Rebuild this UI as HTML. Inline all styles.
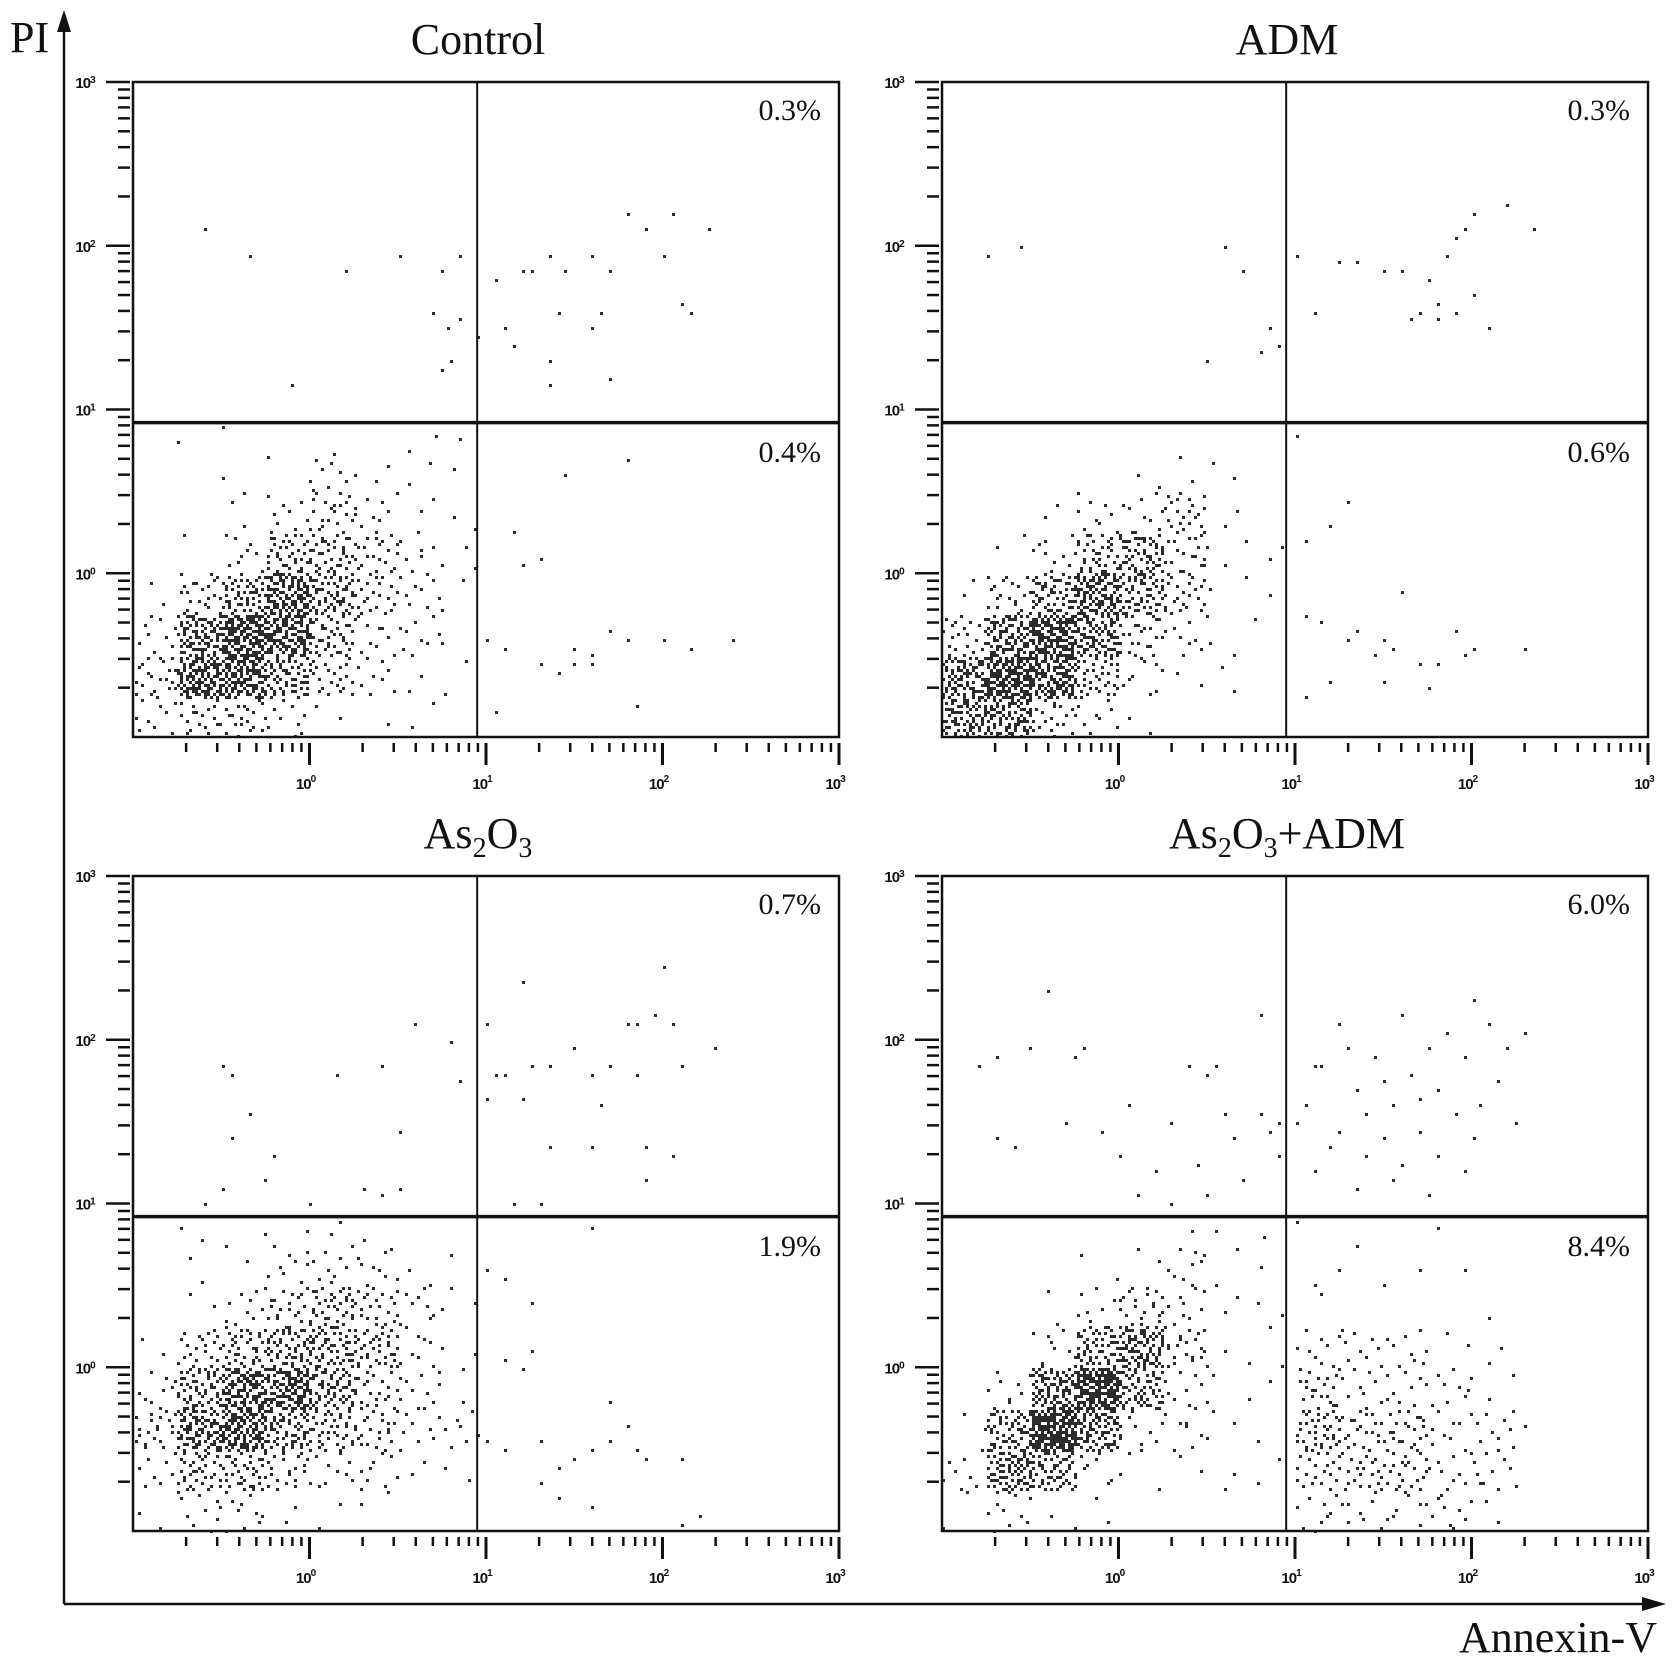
<!DOCTYPE html>
<html><head><meta charset="utf-8"><style>
html,body{margin:0;padding:0;background:#fff;}
svg{display:block;}
</style></head><body>
<svg id="fig" width="1677" height="1665" viewBox="0 0 1677 1665" xmlns="http://www.w3.org/2000/svg">
  <g stroke="#111" fill="#111">
    <line x1="64" y1="24" x2="64" y2="1604" stroke-width="2.5"/>
    <polygon points="64,10 57,32 71,32" stroke="none"/>
    <line x1="64" y1="1604" x2="1650" y2="1604" stroke-width="2.5"/>
    <polygon points="1666,1604 1642,1597 1642,1611" stroke="none"/>
  </g>
  <text x="10" y="52" font-family="Liberation Serif, serif" font-size="44" fill="#111">PI</text>
  <text x="1657" y="1652" text-anchor="end" font-family="Liberation Serif, serif" font-size="44" fill="#111">Annexin-V</text>
  <g id="panels"></g>
</svg>
<script>
// ---- data (log10 coordinates) ----
const panelTitles = ["Control", "ADM", "As2O3", "As2O3+ADM"];
const upperPercents = ["0.3%", "0.3%", "0.7%", "6.0%"];
const lowerPercents = ["0.4%", "0.6%", "1.9%", "8.4%"];
const xTickLabels = ["0", "1", "2", "3"];
const yTickLabels = ["3", "2", "1", "0"];
const gateX = 0.95;
const gateY = 0.92;
// density grids for lower-left quadrant: rows from y=[0.75,1] down to [-1,-0.75]; cols x=[-1,-0.75]..[0.75,1]
const densityControl = [
 [0,1,1,0,0,0,1,1],
 [0,0,1,1,2,1,1,1],
 [0,0,1,2,3,2,1,1],
 [0,1,2,4,4,3,2,1],
 [1,3,5,7,5,3,2,1],
 [2,6,8,7,4,2,2,1],
 [3,7,7,5,3,2,1,1],
 [2,3,3,2,1,1,1,0]];
const densityADM = [
 [0,0,0,0,0,0,0,0],
 [0,0,0,0,1,1,1,0],
 [0,0,1,2,2,3,1,0],
 [0,1,2,4,5,3,1,1],
 [1,3,5,7,5,3,1,1],
 [3,6,8,6,3,2,1,1],
 [6,8,7,4,2,1,1,0],
 [6,6,3,2,1,0,0,0]];
const densityAs = [
 [0,1,1,1,1,1,0,0],
 [0,1,1,2,2,2,1,1],
 [0,1,2,3,4,3,2,1],
 [1,3,4,5,5,4,2,1],
 [2,5,7,7,5,3,2,1],
 [3,6,7,5,4,3,2,2],
 [2,4,4,3,2,2,1,1],
 [1,2,2,1,1,1,0,0]];
const densityAsADM = [
 [0,0,0,0,0,1,1,1],
 [0,0,0,1,1,2,1,1],
 [0,0,1,2,3,2,1,1],
 [0,0,2,5,6,3,1,1],
 [0,2,6,9,5,2,1,1],
 [1,5,9,6,2,2,1,1],
 [2,6,5,2,1,1,1,1],
 [1,2,1,1,0,0,0,0]];
// lower-right density for As2O3+ADM: rows y=[0,0.25]..[-1,-0.75], cols x=[1,1.25]..[2,2.25]
const densityAsADMLR = [
 [2,2,2,1,1],
 [3,2,2,2,1],
 [4,3,3,2,2],
 [3,3,3,2,2],
 [2,2,2,2,1]];
const sparseControl = [
 [-0.6,2.1],[-0.35,1.95],[0.2,1.85],[0.5,1.95],[0.75,1.85],[0.85,1.95],[0.7,1.6],[0.78,1.5],[0.85,1.55],[0.8,1.3],[0.75,1.25],[-0.1,1.15],
 [1.05,1.8],[1.2,1.85],[1.25,1.85],[1.35,1.95],[1.45,1.85],[1.6,1.95],[1.7,1.85],[1.8,2.2],[1.9,2.1],[2.0,1.95],[2.05,2.2],[2.25,2.1],[1.4,1.6],[1.65,1.6],[2.1,1.65],[2.15,1.6],[1.1,1.5],[1.15,1.4],[1.35,1.3],[1.6,1.5],[1.7,1.2],[1.35,1.15],[0.95,1.45],
 [1.45,0.6],[1.8,0.7],[1.15,0.25],[1.3,0.1],[1.2,0.05],[1.0,-0.4],[1.1,-0.45],[1.3,-0.55],[1.4,-0.6],[1.5,-0.45],[1.6,-0.5],[1.7,-0.35],[1.8,-0.4],[2.0,-0.4],[2.15,-0.45],[2.4,-0.4],[1.6,-0.55],[1.85,-0.8],[1.05,-0.85],[1.5,-0.55]];
const sparseADM = [
 [-0.75,1.95],[-0.55,2.0],[0.6,2.0],[0.7,1.85],[0.5,1.3],[0.8,1.35],[0.9,1.4],[0.85,1.5],
 [1.0,1.95],[1.25,1.9],[1.35,1.9],[1.5,1.85],[1.6,1.85],[1.75,1.8],[1.9,2.05],[1.95,2.1],[2.0,2.2],[2.2,2.25],[2.35,2.1],[1.85,1.95],[1.7,1.6],[1.65,1.55],[1.8,1.65],[1.9,1.6],[2.0,1.7],[2.1,1.5],[1.1,1.6],[1.8,1.55],
 [1.0,0.85],[1.3,0.45],[1.2,0.3],[1.05,0.2],[1.6,-0.1],[1.05,-0.25],[1.15,-0.3],[1.35,-0.35],[1.5,-0.4],[1.55,-0.45],[1.45,-0.5],[1.7,-0.55],[1.8,-0.55],[1.95,-0.5],[2.0,-0.45],[2.3,-0.45],[1.2,-0.65],[1.05,-0.75],[1.5,-0.65],[1.75,-0.7],[1.9,-0.35],[1.3,-0.4]];
const sparseAs = [
 [-0.5,1.85],[-0.45,1.8],[-0.35,1.55],[-0.45,1.4],[-0.2,1.3],[-0.5,1.1],[-0.25,1.15],[-0.6,1.0],[0.15,1.8],[0.4,1.85],[0.6,2.1],[0.8,2.0],[0.5,1.45],[0.4,1.05],[0.85,1.75],[0.3,1.1],[0.5,1.1],[0.0,1.0],
 [1.0,2.1],[1.2,2.35],[1.05,1.8],[1.1,1.8],[1.25,1.85],[1.35,1.85],[1.5,1.95],[1.6,1.8],[1.7,1.85],[1.8,2.1],[1.85,2.1],[1.95,2.15],[2.0,2.45],[2.05,2.1],[2.1,1.85],[2.3,1.95],[1.0,1.65],[1.2,1.65],[1.65,1.6],[1.85,1.8],[1.35,1.35],[1.6,1.35],[1.9,1.35],[2.05,1.3],[1.15,1.0],[1.3,1.0],[1.9,1.15],
 [1.0,0.6],[1.1,0.55],[1.25,0.4],[1.6,0.85],[1.1,0.05],[1.2,0.0],[1.25,0.1],[0.95,-0.4],[1.0,-0.45],[1.1,-0.5],[1.3,-0.45],[1.4,-0.6],[1.5,-0.55],[1.6,-0.5],[1.7,-0.45],[1.85,-0.5],[1.9,-0.55],[2.1,-0.55],[1.7,-0.2],[1.4,-0.8],[1.6,-0.85],[2.1,-0.95],[2.2,-0.9],[1.3,-0.7],[1.8,-0.35]];
const sparseAsADM = [
 [-0.8,1.85],[-0.7,1.9],[-0.5,1.95],[-0.4,2.3],[-0.25,1.9],[-0.2,1.95],[0.05,1.6],[-0.3,1.5],[-0.6,1.35],[-0.7,1.4],[0.0,1.3],[0.3,1.5],[0.4,1.85],[0.5,1.8],[0.55,1.85],[0.8,2.15],[0.6,1.55],[0.8,1.55],[0.85,1.45],[0.9,1.3],[0.7,1.15],[0.5,1.05],[0.3,1.0],[0.1,1.05],[0.45,1.25],[0.2,1.2],[-0.1,1.45],[0.65,1.4],[0.9,1.5],
 [1.0,1.5],[1.05,1.6],[1.1,1.85],[1.15,1.85],[1.25,2.1],[1.3,1.95],[1.35,1.7],[1.4,1.55],[1.45,1.9],[1.5,1.75],[1.55,1.6],[1.6,2.15],[1.65,1.8],[1.7,1.45],[1.75,1.95],[1.8,1.7],[1.85,2.05],[1.9,1.55],[1.95,1.9],[2.0,2.25],[2.05,1.6],[2.1,2.1],[2.15,1.75],[2.2,1.95],[2.3,2.05],[2.25,1.5],[1.2,1.35],[1.4,1.3],[1.6,1.25],[1.8,1.3],[1.95,1.2],[1.25,1.45],[1.5,1.4],[1.7,1.65],[2.0,1.4],[1.1,1.2],[1.35,1.1],[1.55,1.15],[1.75,1.05],
 [1.0,0.9],[1.1,0.5],[1.15,0.45],[1.25,0.6],[1.35,0.75],[1.5,0.5],[1.7,0.6],[1.8,0.85],[1.95,0.6],[2.1,0.3],[2.3,-0.35],[2.15,-0.5],[2.05,-0.7]];
const densities = [densityControl, densityADM, densityAs, densityAsADM];
const sparsePoints = [sparseControl, sparseADM, sparseAs, sparseAsADM];
const lrDensities = [null, null, null, densityAsADMLR];

// ---- layout ----
const NS = "http://www.w3.org/2000/svg";
const panelOrigins = [[133,82],[942,82],[133,876],[942,876]];
const PW = 706, PH = 655, DX = PW/4, DY = 163.75;
const root = document.getElementById("panels");

function mk(tag, attrs, parent){
  const e = document.createElementNS(NS, tag);
  for (const k in attrs) e.setAttribute(k, attrs[k]);
  parent.appendChild(e);
  return e;
}
function halton(i, b){ let f=1, r=0; while(i>0){ f/=b; r+=f*(i%b); i=Math.floor(i/b);} return r; }
function levelCount(d){ return Math.round(d*d*2.3); }

panelOrigins.forEach(function(o, p){
  const L=o[0], T=o[1], R=L+PW, B=T+PH;
  const xs = function(lx){ return L + (lx+1)*DX; };
  const ys = function(ly){ return T + (3-ly)*DY; };
  const g = mk("g", {}, root);
  
  

  const title = mk("text", {x: L + 345, y: T - 28, "text-anchor":"middle", "font-family":"Liberation Serif, serif", "font-size":"44", fill:"#111"}, g);
  
  
  const t = panelTitles[p];
  if (t.indexOf("As2O3") === 0) {
    const parts = [["As",0],["2",1],["O",0],["3",1]];
    if (t.length > 5) parts.push([t.slice(5),0]);
    let prevSub = 0;
    parts.forEach(function(pt){
      const s = document.createElementNS(NS, "tspan");
      s.textContent = pt[0];
      if (pt[1]) { s.setAttribute("font-size","28"); s.setAttribute("dy","9"); }
      else { s.setAttribute("dy", prevSub ? "-9" : "0"); }
      prevSub = pt[1];
      title.appendChild(s);
    });
  } else {
    title.textContent = t;
  }

  const dg = mk("g", {fill:"#2b2b2b"}, g);
  
  
  function dot(px, py){
    const r = mk("rect", {x: Math.round(px/3)*3, y: Math.round(py/3)*3, width: 3, height: 3}, dg);
    
    
  }
  function fillGrid(grid, x0, y0, seed){
    grid.forEach(function(row, ri){
      row.forEach(function(d, ci){
        const n = levelCount(d);
        const lx0 = x0 + ci*0.25, ly1 = y0 - ri*0.25;
        for (let i=0;i<n;i++){
          const k = seed + ri*97 + ci*31 + i + 1;
          const lx = lx0 + halton(k,2)*0.25;
          const ly = ly1 - halton(k,3)*0.25;
          if (lx > gateX - 0.01 && x0 < gateX) continue;
          if (ly > gateY - 0.01 && y0 <= 1.01) continue;
          if (ly < -0.99) continue;
          dot(xs(lx), ys(ly));
        }
      });
    });
  }
  fillGrid(densities[p], -1, 1, p*1000);
  if (lrDensities[p]) fillGrid(lrDensities[p], 1, 0.25, 5000);
  sparsePoints[p].forEach(function(pt){ dot(xs(pt[0]), ys(pt[1])); });

  const fr = mk("rect", {x:L, y:T, width:PW, height:PH, fill:"none", stroke:"#111", "stroke-width":"2.5"}, g);
  
  
  const vl = mk("line", {x1: xs(gateX), y1: T, x2: xs(gateX), y2: B, stroke:"#111", "stroke-width":"2"}, g);
  
  
  const hl = mk("line", {x1: L, y1: ys(gateY), x2: R, y2: ys(gateY), stroke:"#111", "stroke-width":"3.5"}, g);
  
  

  const tg = mk("g", {stroke:"#111", "stroke-width":"2.5"}, g);
  
  
  for (let dec=-1; dec<3; dec++){
    for (let m=1; m<=9; m++){
      const lv = dec + Math.log10(m);
      if (lv <= -0.95) continue;
      const major = (m===1);
      const yy = ys(lv);
      mk("line", {x1: major ? L-27 : L-15, y1: yy, x2: L-3, y2: yy}, tg);
      const xx = xs(lv);
      mk("line", {x1: xx, y1: B+6, x2: xx, y2: major ? B+28 : B+15, "stroke-width": major ? 3 : 2.5}, tg);
    }
  }
  mk("line", {x1: L-27, y1: T, x2: L-3, y2: T}, tg);
  mk("line", {x1: R, y1: B+6, x2: R, y2: B+28, "stroke-width":3}, tg);

  yTickLabels.forEach(function(lab, i){
    const tx = mk("text", {x: L-48, y: ys(3-i)+6, "font-family":"Liberation Sans, sans-serif", "font-size":"15", "font-weight":"bold", fill:"#111", "text-anchor":"middle", "letter-spacing":"-1"}, g);
    
    
    tx.textContent = "10";
    const s = document.createElementNS(NS,"tspan"); s.setAttribute("font-size","10"); s.setAttribute("dy","-5"); s.textContent = lab; tx.appendChild(s);
  });
  xTickLabels.forEach(function(lab, i){
    const tx = mk("text", {x: xs(+lab)-4, y: B+52, "font-family":"Liberation Sans, sans-serif", "font-size":"15", "font-weight":"bold", fill:"#111", "text-anchor":"middle", "letter-spacing":"-1"}, g);
    
    
    tx.textContent = "10";
    const s = document.createElementNS(NS,"tspan"); s.setAttribute("font-size","10"); s.setAttribute("dy","-7"); s.textContent = lab; tx.appendChild(s);
  });

  const up = mk("text", {x: R-18, y: T+38, "text-anchor":"end", "font-family":"Liberation Serif, serif", "font-size":"30", fill:"#111"}, g);
  
  
  up.textContent = upperPercents[p];
  const lo = mk("text", {x: R-18, y: T+380, "text-anchor":"end", "font-family":"Liberation Serif, serif", "font-size":"30", fill:"#111"}, g);
  
  
  lo.textContent = lowerPercents[p];
});
</script>
</body></html>
